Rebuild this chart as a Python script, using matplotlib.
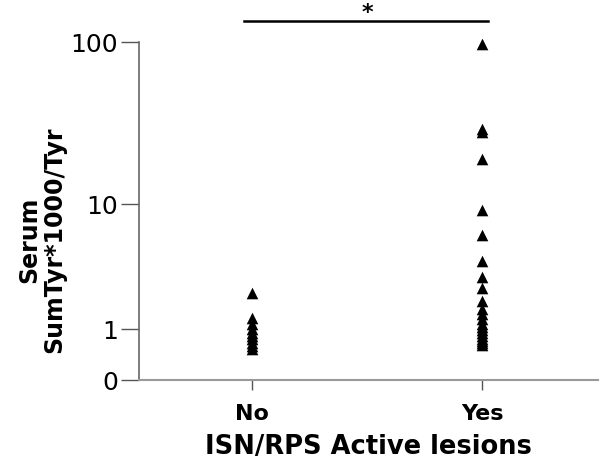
import numpy as np
import matplotlib
matplotlib.use("Agg")
from matplotlib import pyplot as plt

# values (log10(y+1) axis)
groups = ["No", "Yes"]
no_vals = [2.3, 1.33, 1.15, 1.0, 0.9, 0.82, 0.74, 0.66, 0.59, 0.53]
yes_vals = [97, 30, 28.5, 19.5, 9.2, 6.2, 4.1, 3.1, 2.5, 1.95, 1.65, 1.45,
            1.3, 1.15, 1.05, 0.97, 0.9, 0.83, 0.76, 0.7, 0.66, 0.62]
yticks = [0, 1, 10, 100]
y_label = "Serum\nSumTyr*1000/Tyr"
x_label = "ISN/RPS Active lesions"

fig = plt.figure(figsize=(6.04, 4.68), dpi=100)
ax = fig.add_axes([0.230, 0.188, 0.760, 0.722])

ax.set_yscale("function", functions=(lambda y: np.log10(np.clip(y, -0.99, None) + 1),
                                      lambda t: 10 ** t - 1))

for i, vals in enumerate([no_vals, yes_vals]):
    ax.scatter([i] * len(vals), vals, marker="^", s=70, color="black",
               linewidths=0, zorder=3, clip_on=False)

ax.set_ylim(0, 100)
ax.set_xlim(-0.491, 1.504)
ax.set_yticks(yticks)
ax.set_yticklabels([str(t) for t in yticks])
ax.yaxis.set_minor_locator(matplotlib.ticker.NullLocator())
ax.set_xticks(range(len(groups)))
ax.set_xticklabels(groups, fontsize=16, fontweight="bold")

ax.tick_params(axis="y", length=13, width=1, color="#555555", labelsize=18, pad=2)
ax.tick_params(axis="x", length=7, width=1, color="#555555", pad=10)

for s in ["top", "right"]:
    ax.spines[s].set_visible(False)
ax.spines["left"].set_color("#666666")
ax.spines["bottom"].set_color("#999999")
ax.spines["left"].set_linewidth(1.2)
ax.spines["bottom"].set_linewidth(1.5)

ax.set_ylabel(y_label, fontsize=17, fontweight="bold", linespacing=1.05)
ax.yaxis.set_label_coords(-0.158, 0.414)
ax.set_xlabel(x_label, fontsize=18.5, fontweight="bold")
ax.xaxis.set_label_coords(0.5, -0.16)

# significance bar
tr = ax.get_xaxis_transform()
ax.plot([-0.035, 1.025], [1.062, 1.062], color="black", lw=1.8, transform=tr, clip_on=False)
ax.text(0.5, 1.068, "*", ha="center", va="baseline", fontsize=16, fontweight="bold", transform=tr)

fig.savefig("out.png", dpi=100)
